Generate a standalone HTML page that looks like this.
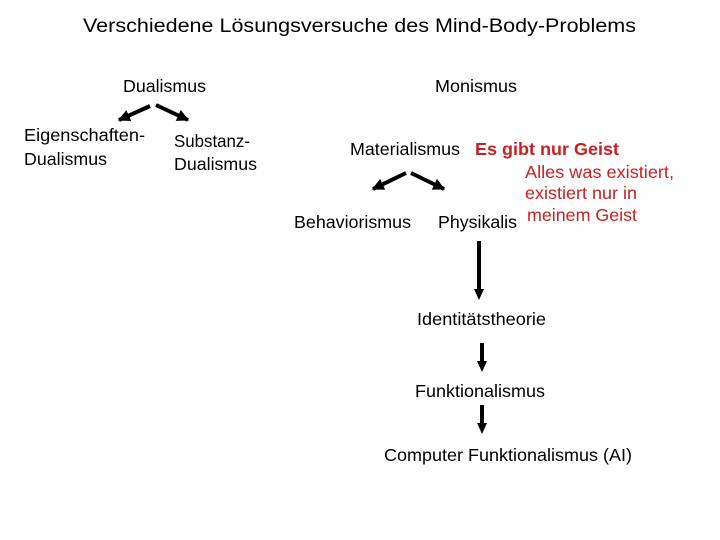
<!DOCTYPE html>
<html><head><meta charset="utf-8"><style>
html,body{margin:0;padding:0;background:#fff;}
svg{display:block;}
text{font-family:"Liberation Sans",sans-serif;}
</style></head><body>
<svg width="720" height="540" viewBox="0 0 720 540" xmlns="http://www.w3.org/2000/svg">
<defs>
<marker id="ah" viewBox="0 0 10 10" refX="9" refY="5" markerWidth="3" markerHeight="3" orient="auto" markerUnits="strokeWidth">
<path d="M0,0 L10,5 L0,10 z" fill="#000"/>
</marker>
</defs>
<g font-size="17.5" lengthAdjust="spacingAndGlyphs">
<text x="83" y="32" font-size="19" lengthAdjust="spacingAndGlyphs" textLength="553">Verschiedene Lösungsversuche des Mind-Body-Problems</text>
<text x="123" y="92" lengthAdjust="spacingAndGlyphs" textLength="83">Dualismus</text>
<text x="435" y="92" lengthAdjust="spacingAndGlyphs" textLength="82">Monismus</text>

<text x="24" y="141" lengthAdjust="spacingAndGlyphs" textLength="121">Eigenschaften-</text>
<text x="24" y="165" lengthAdjust="spacingAndGlyphs" textLength="83">Dualismus</text>
<text x="174" y="147" lengthAdjust="spacingAndGlyphs" textLength="76">Substanz-</text>
<text x="174" y="170" lengthAdjust="spacingAndGlyphs" textLength="83">Dualismus</text>

<text x="350" y="155" lengthAdjust="spacingAndGlyphs" textLength="110">Materialismus</text>
<text x="475" y="155" font-weight="bold" fill="#cc1f1f" lengthAdjust="spacingAndGlyphs" textLength="144">Es gibt nur Geist</text>
<text x="525" y="178" fill="#cc1f1f" lengthAdjust="spacingAndGlyphs" textLength="149">Alles was existiert,</text>
<text x="525" y="199" fill="#cc1f1f" lengthAdjust="spacingAndGlyphs" textLength="112">existiert nur in</text>
<text x="527" y="221" fill="#cc1f1f" lengthAdjust="spacingAndGlyphs" textLength="110">meinem Geist</text>

<text x="294" y="228" lengthAdjust="spacingAndGlyphs" textLength="117">Behaviorismus</text>
<text x="438" y="228" lengthAdjust="spacingAndGlyphs" textLength="79">Physikalis</text>

<text x="417" y="325" lengthAdjust="spacingAndGlyphs" textLength="129">Identitätstheorie</text>
<text x="415" y="397" lengthAdjust="spacingAndGlyphs" textLength="130">Funktionalismus</text>
<text x="384" y="461" lengthAdjust="spacingAndGlyphs" textLength="248">Computer Funktionalismus (AI)</text>
</g>

<g stroke="#000" stroke-width="4" fill="none">
<line x1="150" y1="106" x2="119" y2="120" marker-end="url(#ah)"/>
<line x1="156" y1="105" x2="188" y2="120" marker-end="url(#ah)"/>
<line x1="406" y1="173" x2="373" y2="189" marker-end="url(#ah)"/>
<line x1="411" y1="173" x2="444" y2="189" marker-end="url(#ah)"/>
</g>
<g fill="#000">
<rect x="477" y="241" width="4" height="50"/>
<path d="M474,289 L484,289 L479,300 z"/>
<rect x="480" y="343" width="4" height="20"/>
<path d="M477,361 L487,361 L482,372 z"/>
<rect x="480" y="405" width="4" height="20"/>
<path d="M477,423 L487,423 L482,434 z"/>
</g>
</svg>
</body></html>
